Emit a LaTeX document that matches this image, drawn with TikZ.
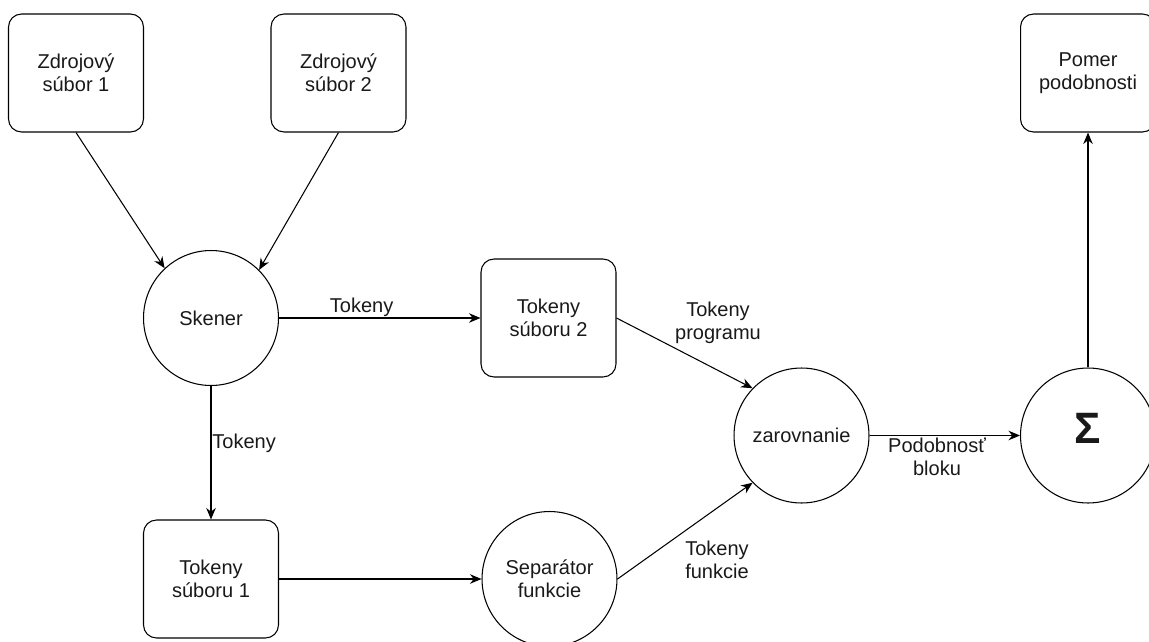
\documentclass[tikz,border=0pt]{standalone}
\usepackage{fontspec}
\setmainfont{Liberation Sans}
\usetikzlibrary{arrows.meta}
\begin{document}
\begin{tikzpicture}[x=0.02cm,y=-0.02cm,>={Stealth[length=2.3mm,width=1.9mm]},line join=round,line width=0.6pt,
	font=\fontsize{11.4pt}{13.1pt}\selectfont,
	box/.style={draw,rounded corners=0.26cm,minimum width=2.7cm,minimum height=2.36cm,align=center,text=black!90},
	krug/.style={draw,circle,minimum size=2.7cm,inner sep=0pt,align=center,text=black!90},
	lbl/.style={align=center,text=black!90,inner sep=0.5pt}]
	\useasboundingbox (0,0) rectangle (1149,642);
	\clip (0,0) rectangle (1149,642);
	\node[box] (src1) at (76,73) {Zdrojový\\súbor 1};
	\node[box] (src2) at (338.5,73) {Zdrojový\\súbor 2};
	\node[box] (ratio) at (1088,73) {Pomer\\podobnosti};
	\node[krug] (skener) at (211,318) {Skener};
	\node[box] (tok2) at (548.5,318) {Tokeny\\súboru 2};
	\node[box] (tok1) at (211,579) {Tokeny\\súboru 1};
	\node[krug] (sep) at (549.5,579) {Separátor\\funkcie};
	\node[krug] (zar) at (801.5,435.5) {zarovnanie};
	\node[krug,text depth=0.28cm,font=\fontsize{25pt}{25pt}\selectfont\bfseries] (sum) at (1088,435.5) {Σ};
	\draw[->] (src1.south) -- (skener.133);
	\draw[->] (src2.south) -- (skener.45);
	\draw[->] (skener.east) -- node[lbl,pos=0.41,above] (lbltop) {Tokeny} (tok2.west);
	\draw[->] (skener.south) -- node[lbl,pos=0.43,right] (lbldown) {Tokeny} (tok1.north);
	\draw[->] (tok1.east) -- (sep.west);
	\draw[->] (tok2.east) -- (zar.136);
	\draw[->] (sep.east) -- (zar.224);
	\draw[->] (zar.east) -- (sum.west);
	\draw[->] (sum.north) -- (ratio.south);
	\node[lbl] (lblprog) at (718,323) {Tokeny\\programu};
	\node[lbl] (lblfunc) at (717,560) {Tokeny\\funkcie};
	\node[lbl] (lblsim) at (937,457) {Podobnosť\\bloku};
\end{tikzpicture}
\end{document}
